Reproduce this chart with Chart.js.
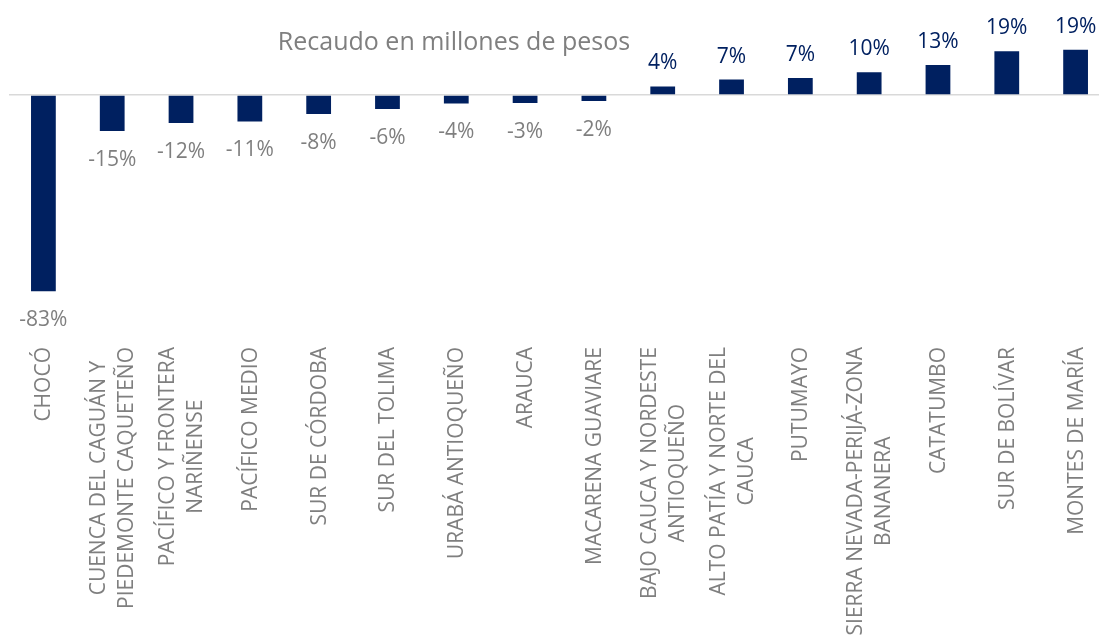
<!DOCTYPE html>
<html>
<head>
<meta charset="utf-8">
<title>Recaudo en millones de pesos</title>
<script src="https://cdn.jsdelivr.net/npm/chart.js@4.4.1/dist/chart.umd.min.js"></script>
<style>
  html, body { margin: 0; padding: 0; background: #fff; overflow: hidden; }
  #wrap { width: 1110px; height: 637px; }
</style>
</head>
<body>
<div id="wrap"><canvas id="chart" width="1110" height="637"></canvas></div>
<script>
'use strict';

// chart data
var chartTitle = 'Recaudo en millones de pesos';
var categories = [
    ['CHOCÓ'],
    ['CUENCA DEL CAGUÁN Y', 'PIEDEMONTE CAQUETEÑO'],
    ['PACÍFICO Y FRONTERA', 'NARIÑENSE'],
    ['PACÍFICO MEDIO'],
    ['SUR DE CÓRDOBA'],
    ['SUR DEL TOLIMA'],
    ['URABÁ ANTIOQUEÑO'],
    ['ARAUCA'],
    ['MACARENA GUAVIARE'],
    ['BAJO CAUCA Y NORDESTE', 'ANTIOQUEÑO'],
    ['ALTO PATÍA Y NORTE DEL', 'CAUCA'],
    ['PUTUMAYO'],
    ['SIERRA NEVADA-PERIJÁ-ZONA', 'BANANERA'],
    ['CATATUMBO'],
    ['SUR DE BOLÍVAR'],
    ['MONTES DE MARÍA']
];
var variation = [-83, -15.2, -11.8, -11.2, -8, -5.9, -3.6, -3.4, -2.5, 3.6, 6.5, 7.2, 9.6, 12.7, 18.5, 19.1];

var barColor = '#002060';
var grayText = '#7f7f7f';
var fontFamily = '"Open Sans", "DejaVu Sans", sans-serif';

// value labels, category labels and title, drawn the way the office chart shows them
var excelLabels = {
    id: 'excelLabels',
    afterDatasetsDraw: function( chart ) {
        var ctx = chart.ctx;
        var meta = chart.getDatasetMeta( 0 );
        var xScale = chart.scales.x;
        ctx.save();

        // data labels, outside end
        ctx.font = '21px ' + fontFamily;
        ctx.textAlign = 'center';
        ctx.textBaseline = 'middle';
        meta.data.forEach( function( bar, i ) {
            var v = variation[ i ];
            var txt = Math.round( v ) + '%';
            if( v >= 0 ) {
                ctx.fillStyle = barColor;
                ctx.fillText( txt, bar.x, bar.y - 23 );
            }
            else {
                ctx.fillStyle = grayText;
                ctx.fillText( txt, bar.x, bar.y + 29 );
            }
        });

        // category labels, turned 90 degrees, lines centred on the tick
        ctx.font = '21px ' + fontFamily;
        ctx.fillStyle = grayText;
        var top = chart.chartArea.bottom + 51;
        var lineHeight = 28;
        categories.forEach( function( lines, i ) {
            var x = xScale.getPixelForTick( i );
            var w = 0;
            lines.forEach( function( line ) {
                w = Math.max( w, ctx.measureText( line ).width );
            });
            lines.forEach( function( line, j ) {
                ctx.save();
                ctx.translate( x + 1 + ( j - ( lines.length - 1 ) / 2 ) * lineHeight, top + w / 2 );
                ctx.rotate( -Math.PI / 2 );
                ctx.fillText( line, 0, 0 );
                ctx.restore();
            });
        });

        // title
        ctx.font = '25px ' + fontFamily;
        ctx.fillStyle = grayText;
        ctx.textBaseline = 'alphabetic';
        ctx.fillText( chartTitle, 454, 49.5 );

        ctx.restore();
    }
};

var chart = new Chart( document.getElementById( 'chart' ).getContext( '2d' ), {
    type: 'bar',
    data: {
        labels: categories,
        datasets: [
            {
                data: variation,
                backgroundColor: barColor,
                borderWidth: 0,
                barPercentage: 0.36,
                categoryPercentage: 1
            }
        ]
    },
    options: {
        responsive: false,
        animation: false,
        devicePixelRatio: 1,
        layout: {
            padding: { left: 9, right: 0, top: 47.7, bottom: 341 }
        },
        plugins: {
            legend: { display: false },
            tooltip: { enabled: false },
            title: { display: false }
        },
        scales: {
            x: {
                grid: { display: false, drawTicks: false },
                border: { display: false },
                ticks: { display: false }
            },
            y: {
                min: -85,
                max: 20,
                afterFit: function( scale ) { scale.width = 0; },
                ticks: { display: false, stepSize: 5 },
                border: { display: false },
                grid: {
                    drawTicks: false,
                    lineWidth: 1.5,
                    color: function( c ) {
                        return c.tick && c.tick.value === 0 ? '#d9d9d9' : 'rgba(0,0,0,0)';
                    }
                }
            }
        }
    },
    plugins: [ excelLabels ]
});
</script>
</body>
</html>
